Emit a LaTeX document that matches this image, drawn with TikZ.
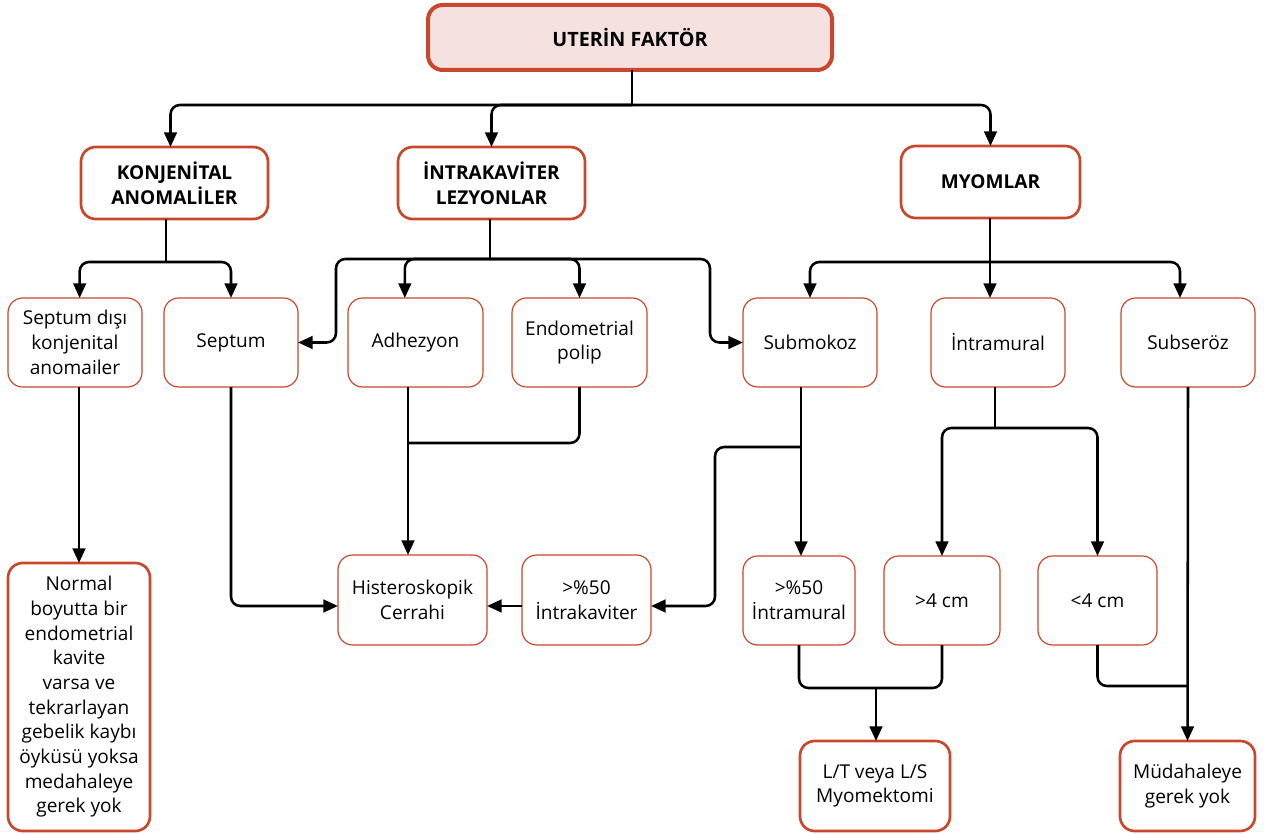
\documentclass[tikz,border=0pt]{standalone}
\usepackage{fontspec}
\setmainfont{Open Sans}
\usetikzlibrary{arrows.meta}
\definecolor{rust}{HTML}{C8472D}
\definecolor{blush}{HTML}{F5E1DF}
\begin{document}
\begin{tikzpicture}[x=0.75pt,y=-0.75pt,
  sz/.style 2 args={minimum width=#1*0.75pt,minimum height=#2*0.75pt},
  base/.style={rectangle,rounded corners=11pt,inner sep=0pt,outer sep=0pt,
    align=center,font=\fontsize{14.3}{18.5}\selectfont,text=black},
  thinbox/.style={base,draw=rust,line width=0.9pt,fill=white},
  thickbox/.style={base,draw=rust,line width=2pt,fill=white},
  headbox/.style={base,draw=rust,line width=2pt,fill=white,
    font=\fontsize{14.3}{18.5}\selectfont\bfseries},
  topbox/.style={base,draw=rust,line width=3pt,fill=blush,
    font=\fontsize{14.8}{18.5}\selectfont\bfseries},
  wire/.style={draw=black,line width=1.9pt,rounded corners=7pt},
  arr/.style={wire,-{Triangle[length=11pt,width=9.5pt]}}]
\useasboundingbox (0,0) rectangle (1264,834);

% level 0
\node[topbox,sz={404}{65}] (top) at (630,37.5) {UTERİN FAKTÖR};
% level 1
\node[headbox,sz={187}{72}] (konj) at (174.5,183) {KONJENİTAL\\ANOMALİLER};
\node[headbox,sz={187}{72}] (intra) at (491.5,183) {İNTRAKAVİTER\\LEZYONLAR};
\node[headbox,sz={179}{72}] (myom) at (990.5,182) {MYOMLAR};
% level 2
\node[thinbox,sz={134}{89}] (sdisi) at (75,342.5) {Septum dışı\\konjenital\\anomailer};
\node[thinbox,sz={134}{89}] (septum) at (231,342.5) {Septum};
\node[thinbox,sz={135}{89}] (adh) at (415.5,342.5) {Adhezyon};
\node[thinbox,sz={135}{89}] (endo) at (579.5,342.5) {Endometrial\\polip};
\node[thinbox,sz={134}{89}] (submk) at (810,342.5) {Submokoz};
\node[thinbox,sz={134}{89}] (intram) at (998,342.5) {İntramural};
\node[thinbox,sz={134}{89}] (subser) at (1188,342.5) {Subseröz};
% level 3
\node[thickbox,sz={142}{268}] (normal) at (79,697) {Normal\\boyutta bir\\endometrial\\kavite\\varsa ve\\tekrarlayan\\gebelik kaybı\\öyküsü yoksa\\medahaleye\\gerek yok};
\node[thinbox,sz={149}{90}] (hist) at (412.5,600) {Histeroskopik\\Cerrahi};
\node[thinbox,sz={129}{90}] (intrak) at (586.5,600) {>\%50\\İntrakaviter};
\node[thinbox,sz={112}{89}] (p50im) at (799,600.5) {>\%50\\İntramural};
\node[thinbox,sz={116}{89}] (gt4) at (942,600.5) {>4 cm};
\node[thinbox,sz={119}{89}] (lt4) at (1097.5,600.5) {<4 cm};
% level 4
\node[thickbox,sz={150}{90}] (lt) at (875,786) {L/T veya L/S\\Myomektomi};
\node[thickbox,sz={135}{90}] (mud) at (1187.5,786) {Müdahaleye\\gerek yok};

% junction points
\coordinate (t1) at (632,105);
\coordinate (k1) at (166,262);
\coordinate (i1) at (490,259);
\coordinate (iL) at (336,259);
\coordinate (iR) at (710,259);
\coordinate (m1) at (990,262);
\coordinate (a1) at (408,443);
\coordinate (s1) at (801,447);
\coordinate (s2) at (715,447);
\coordinate (n1) at (995,428);
\coordinate (b1) at (876,688);
\coordinate (c1) at (1188,686);

% from the root
\draw[wire] (t1 |- top.south) -- (t1);
\draw[arr] (t1) -| ([xshift=-3pt]konj.north);
\draw[arr] (t1) -| (myom.north);
\draw[arr] (t1) -- (t1 -| intra.north) -- (intra.north);

% congenital anomalies
\draw[wire] (k1 |- konj.south) -- (k1);
\draw[arr] (k1) -| ([xshift=3.5pt]sdisi.north);
\draw[arr] (k1) -| (septum.north);

% intracavitary lesions
\draw[wire] (i1 |- intra.south) -- (i1);
\draw[arr] (i1) -- (iL) |- (septum.east);
\draw[arr] (i1) -| ([xshift=-8pt]adh.north);
\draw[arr] (i1) -| (endo.north);
\draw[arr] (i1) -- (iR) |- (submk.west);

% myomas
\draw[wire] (m1 |- myom.south) -- (m1);
\draw[arr] (m1) -| (submk.north);
\draw[arr] (m1) -- (m1 |- intram.north);
\draw[arr] (m1) -| ([xshift=-6pt]subser.north);

% toward treatment
\draw[arr] (normal.north |- sdisi.south) -- (normal.north);
\draw[arr] (septum.south) |- ([yshift=-4.5pt]hist.west);
\draw[arr] (a1 |- adh.south) -- (a1 |- hist.north);
\draw[wire] (endo.south) |- (a1);
\draw[arr] (s1 |- submk.south) -- (s1 |- p50im.north);
\draw[arr] (s1) -- (s2) |- ([yshift=-4.5pt]intrak.east);
\draw[arr] ([yshift=-4.5pt]intrak.west) -- ([yshift=-4.5pt]hist.east);
\draw[wire] (n1 |- intram.south) -- (n1);
\draw[arr] (n1) -| (gt4.north);
\draw[arr] (n1) -| (lt4.north);
\draw[wire] (p50im.south) |- (b1) -| (gt4.south);
\draw[arr] (b1) -- (b1 |- lt.north);
\draw[wire] (lt4.south) |- (c1);
\draw[arr] (subser.south) -- (mud.north);
\end{tikzpicture}
\end{document}
